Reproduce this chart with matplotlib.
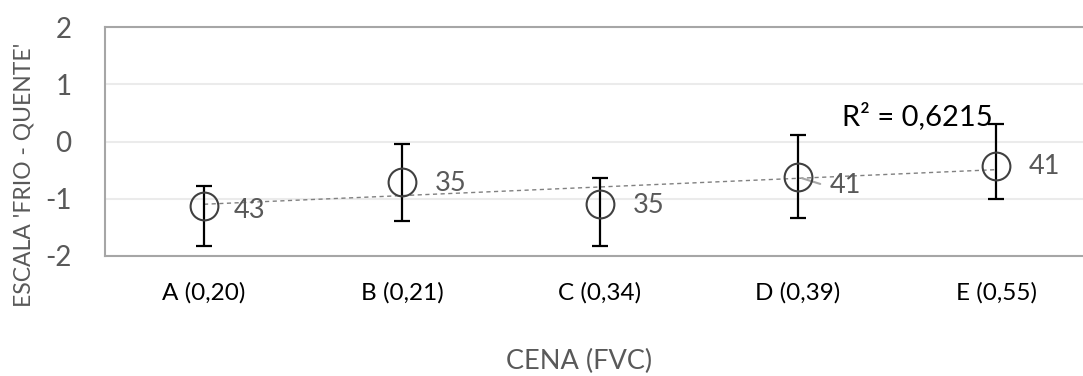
import numpy as np
import matplotlib
matplotlib.use("Agg")
import matplotlib.pyplot as plt

plt.rcParams['font.family'] = ['Lato', 'DejaVu Sans']

categories = ["A (0,20)", "B (0,21)", "C (0,34)", "D (0,39)", "E (0,55)"]
means = [-1.13, -0.71, -1.09, -0.62, -0.42]
err_upper = [-0.77, -0.04, -0.63, 0.12, 0.30]
err_lower = [-1.82, -1.39, -1.83, -1.34, -1.00]
counts = ["43", "35", "35", "41", "41"]
r2_label = "R\u00b2 = 0,6215"
y_ticks = [-2, -1, 0, 1, 2]

W, H = 1083, 376
fig = plt.figure(figsize=(W / 100, H / 100), dpi=100)
ax = fig.add_axes([105 / W, (H - 256) / H, 990 / W, (256 - 27) / H])

x = np.arange(1, len(categories) + 1)
m = np.array(means)
yerr = np.vstack([m - np.array(err_lower), np.array(err_upper) - m])

# trendline
coef = np.polyfit(x, m, 1)
xt = np.array([x[0], x[-1]])
ax.plot(xt, np.polyval(coef, xt), linestyle=(0, (3, 2.5)), color="#808080", lw=1.0, zorder=2)

ax.errorbar(x, m, yerr=yerr, fmt="none", ecolor="black", elinewidth=1.6,
            capsize=6, capthick=1.6, zorder=3)
ax.plot(x, m, "o", ms=20, mfc="none", mec="#404040", mew=1.5, zorder=4)

# data labels
offsets = [(29, -4), (31, -1), (31, -2), (30, -8), (31, -1)]
for xi, yi, lab, (dx, dy) in zip(x, m, counts, offsets):
    ax.annotate(lab, (xi, yi), xytext=(dx * 0.75, dy * 0.75), textcoords="offset points",
                ha="left", va="center", fontsize=19.5, color="#595959", zorder=5)
# leader line for D
ax.annotate("", (x[3], m[3]), xytext=(16, -5), textcoords="offset points",
            arrowprops=dict(arrowstyle="-", color="#A6A6A6", lw=1.5, shrinkA=0, shrinkB=3))

ax.text(842 / W, (H - 125) / H, r2_label, transform=fig.transFigure,
        fontsize=21, color="black", ha="left", va="baseline")

ax.set_xlim(0.5, len(categories) + 0.5)
ax.set_ylim(-2, 2)
ax.set_yticks(y_ticks)
ax.set_yticklabels([str(t) for t in y_ticks])
ax.set_xticks(x)
ax.set_xticklabels(categories)
ax.tick_params(axis="y", length=0, pad=24, labelsize=20, labelcolor="#595959")
ax.tick_params(axis="x", length=0, pad=19, labelsize=17.5, labelcolor="black")
ax.grid(axis="y", color="#EBEBEB", lw=1.5)
ax.set_axisbelow(True)
for s in ax.spines.values():
    s.set_color("#A6A6A6")
    s.set_linewidth(1.5)

fig.text(24 / W, (H - 175) / H, "ESCALA 'FRIO - QUENTE'", rotation=90,
         ha="center", va="center", fontsize=16.5, color="#595959")
fig.text(579 / W, (H - 361) / H, "CENA (FVC)", ha="center", va="center",
         fontsize=19.5, color="#595959")

fig.savefig("out.png", dpi=100)
